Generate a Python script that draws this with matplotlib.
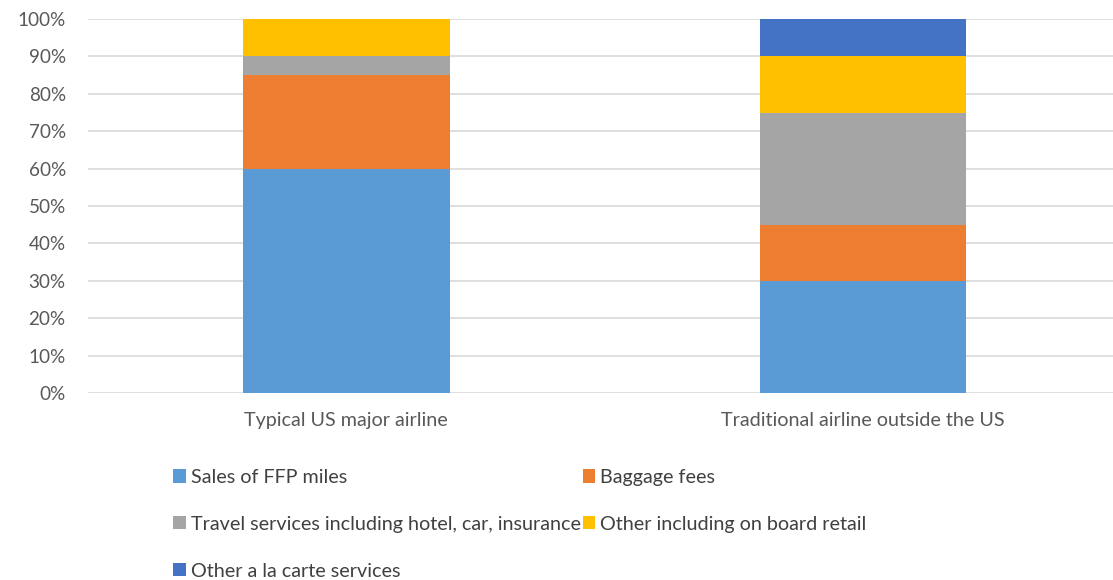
import numpy as np
import matplotlib
matplotlib.use("Agg")
import matplotlib.pyplot as plt
from matplotlib.ticker import PercentFormatter

categories = ["Typical US major airline", "Traditional airline outside the US"]
series_names = ["Sales of FFP miles",
                "Baggage fees",
                "Travel services including hotel, car, insurance",
                "Other including on board retail",
                "Other a la carte services"]
ffp_miles = [60, 30]
baggage = [25, 15]
travel = [5, 30]
onboard = [10, 15]
a_la_carte = [0, 10]
colors = ["#5B9BD5", "#ED7D31", "#A5A5A5", "#FFC000", "#4472C4"]

plt.rcParams["font.family"] = ["Lato", "DejaVu Sans"]
fig = plt.figure(figsize=(11.13, 5.8), dpi=100)
ax = fig.add_axes([88/1113, 1 - 393/580, 1 - 88/1113, (393 - 19)/580])

x = np.arange(len(categories))
bottom = np.zeros(len(categories))
handles = []
for name, vals, col in zip(series_names, [ffp_miles, baggage, travel, onboard, a_la_carte], colors):
    vals = np.array(vals, dtype=float)
    h = ax.bar(x, vals, 0.4, bottom=bottom, color=col, label=name, zorder=2)
    handles.append(h)
    bottom += vals

ax.set_ylim(0, 100)
ax.set_yticks(np.arange(0, 101, 10))
ax.yaxis.set_major_formatter(PercentFormatter(decimals=0))
ax.set_xlim(-0.5, 1.484)
ax.set_xticks(x)
ax.set_xticklabels(categories, fontsize=14.2)
ax.grid(axis="y", color="#D9D9D9", linewidth=1.2, zorder=0)
for s in ax.spines.values():
    s.set_visible(False)
ax.tick_params(length=0, colors="#595959")
ax.tick_params(axis="y", labelsize=13.6, pad=16)
ax.tick_params(axis="x", pad=14)

# row-major legend order like the original
order = [0, 2, 4, 1, 3]
fig.legend([handles[i] for i in order], [series_names[i] for i in order],
           loc="upper left", bbox_to_anchor=(163/1113, 1 - 459/580), ncol=2,
           frameon=False, fontsize=14.2, labelcolor="#404040",
           handlelength=0.65, handleheight=0.65, handletextpad=0.25,
           columnspacing=0.1, labelspacing=1.52, borderpad=0)

fig.savefig("out.png", dpi=100)
